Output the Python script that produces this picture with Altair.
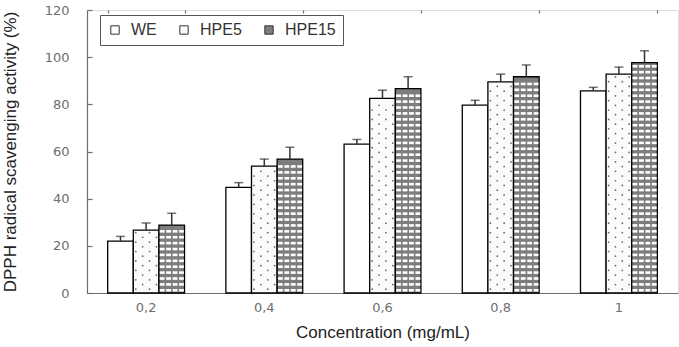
import altair as alt
import pandas as pd

# Concentrations and the three extracts
conc = ["0,2", "0,4", "0,6", "0,8", "1"]
series = ["WE", "HPE5", "HPE15"]

# DPPH radical scavenging activity (%) and SD for each extract
we = [22.0, 44.8, 63.1, 79.7, 85.7]
we_err = [2.0, 2.0, 2.0, 2.0, 1.5]
hpe5 = [26.7, 53.8, 82.5, 89.5, 92.8]
hpe5_err = [3.0, 3.0, 3.5, 3.3, 3.0]
hpe15 = [28.8, 56.8, 86.7, 91.7, 97.7]
hpe15_err = [5.0, 5.0, 5.0, 5.0, 5.0]

rows = []
for name, vals, errs in [("WE", we, we_err), ("HPE5", hpe5, hpe5_err), ("HPE15", hpe15, hpe15_err)]:
    for c, v, e in zip(conc, vals, errs):
        rows.append({"conc": c, "series": name, "value": v, "top": v + e})
df = pd.DataFrame(rows)

# Fill textures: sub-columns inside each bar (4 per bar)
sub_cols = [f"{s}-{i}" for s in series for i in range(4)]
dots, bricks = [], []
for c, v in zip(conc, hpe5):
    k = 0
    y = 1.6
    while y < v - 1.0:
        for i in range(4):
            if (i + k) % 2 == 0:
                dots.append({"conc": c, "sub": f"HPE5-{i}", "y": y})
        k += 1
        y += 2.0
for c, v in zip(conc, hpe15):
    y = 0.6
    while y + 1.1 < v - 0.4:
        for i in range(4):
            bricks.append({"conc": c, "sub": f"HPE15-{i}", "y": y, "y2": y + 1.1})
        y += 2.5
dots_df = pd.DataFrame(dots)
bricks_df = pd.DataFrame(bricks)

FONT = "Liberation Sans"
GRAY = "#6e6e6e"

x_scale = alt.Scale(domain=conc, paddingInner=0.35, paddingOuter=0.175)
y_scale = alt.Scale(domain=[0, 120], nice=False)

x_main = alt.X(
    "conc:N", scale=x_scale, sort=conc,
    axis=alt.Axis(title="Concentration (mg/mL)", labelAngle=0, ticks=False,
                  domainColor=GRAY, domainWidth=1.2, labelColor=GRAY,
                  labelFont="DejaVu Sans", labelFontSize=13, labelPadding=8,
                  titleFont=FONT, titleFontSize=17, titleFontWeight="normal",
                  titleColor="#222", titlePadding=10),
)
y_main = alt.Y(
    "value:Q", scale=y_scale,
    axis=alt.Axis(title="DPPH radical scavenging activity (%)", orient="left",
                  values=[0, 20, 40, 60, 80, 100, 120], ticks=False,
                  domainColor=GRAY, domainWidth=1.2, labelColor=GRAY,
                  labelFont="DejaVu Sans", labelFontSize=13, labelPadding=18,
                  grid=False, titleFont=FONT, titleFontSize=17,
                  titleFontWeight="normal", titleColor="#222", titlePadding=25),
)

bars = alt.Chart(df).mark_bar(stroke="black", strokeWidth=1.3).encode(
    x=x_main,
    xOffset=alt.XOffset("series:N", sort=series,
                        scale=alt.Scale(domain=series, paddingInner=0, paddingOuter=0)),
    y=y_main,
    fill=alt.Fill("series:N", sort=series,
                  scale=alt.Scale(domain=series, range=["white", "#fbfbfb", "#7d7d7d"]),
                  legend=alt.Legend(title=None, orient="none", legendX=13, legendY=5,
                                    direction="horizontal", columns=3,
                                    symbolType="square", symbolSize=70,
                                    symbolStrokeColor="#333", symbolStrokeWidth=1,
                                    labelFont=FONT, labelFontSize=16, labelColor="#333",
                                    labelOffset=8, columnPadding=19,
                                    labelExpr="datum.label == 'HPE15' ? datum.label + '     ' : datum.label",
                                    padding=7, strokeColor="#555", fillColor="white")),
)

sub_offset = alt.XOffset("sub:N", sort=sub_cols,
                         scale=alt.Scale(domain=sub_cols, paddingInner=0.25, paddingOuter=0.1))

dot_layer = alt.Chart(dots_df).mark_circle(size=3, color="#555", opacity=0.9).encode(
    x=alt.X("conc:N", scale=x_scale, sort=conc, axis=None),
    xOffset=sub_offset,
    y=alt.Y("y:Q", scale=y_scale, axis=None),
)

brick_layer = alt.Chart(bricks_df).mark_bar(color="white").encode(
    x=alt.X("conc:N", scale=x_scale, sort=conc, axis=None),
    xOffset=sub_offset,
    y=alt.Y("y:Q", scale=y_scale, axis=None),
    y2="y2:Q",
)

err_x = alt.X("conc:N", scale=x_scale, sort=conc, axis=None)
err_off = alt.XOffset("series:N", sort=series,
                      scale=alt.Scale(domain=series, paddingInner=0, paddingOuter=0))

err_rule = alt.Chart(df).mark_rule(color="#333", strokeWidth=1.5).encode(
    x=err_x, xOffset=err_off,
    y=alt.Y("value:Q", scale=y_scale, axis=None), y2="top:Q",
)
err_cap = alt.Chart(df).mark_tick(color="#333", thickness=1.5, size=9, orient="horizontal").encode(
    x=err_x, xOffset=err_off,
    y=alt.Y("top:Q", scale=y_scale, axis=None),
)

# Inward-facing tick marks on both axes
tick_layer = alt.Chart(df).mark_point(opacity=0).encode(
    x=alt.X("conc:N", scale=x_scale, sort=conc,
            axis=alt.Axis(title=None, labels=False, domain=False, ticks=True,
                          tickBand="extent", tickSize=3, offset=-3,
                          tickColor=GRAY, tickWidth=1.2)),
    y=alt.Y("value:Q", scale=y_scale,
            axis=alt.Axis(title=None, labels=False, domain=False, ticks=True,
                          orient="left", values=[0, 20, 40, 60, 80, 100, 120],
                          tickSize=5, offset=-5, tickColor=GRAY, tickWidth=1.2,
                          grid=False)),
)

chart = alt.layer(bars, dot_layer, brick_layer, err_rule, err_cap, tick_layer).resolve_scale(
    xOffset="independent"
).resolve_axis(
    x="independent", y="independent"
).properties(
    width=591, height=283,
    padding={"left": 87, "top": 10, "right": 1, "bottom": 54},
    autosize=alt.AutoSizeParams(type="none"),
).configure_view(stroke=None).configure(background="white")

chart.save("out.html", embed_options={"renderer": "svg", "actions": False})
